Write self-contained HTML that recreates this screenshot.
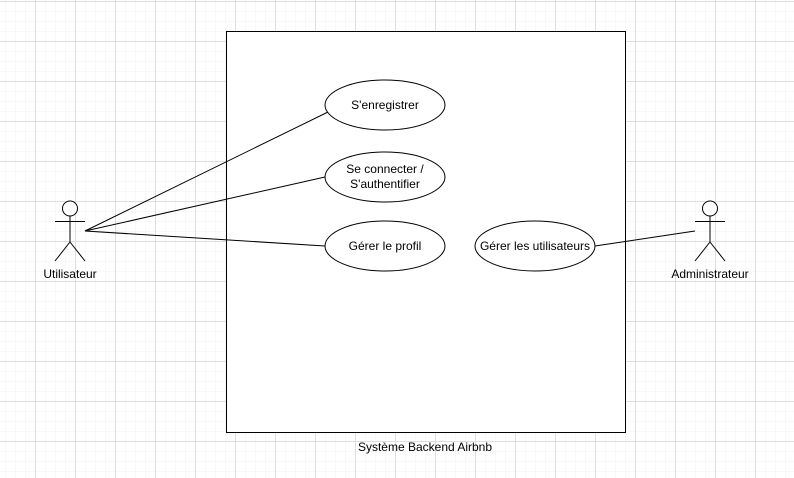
<!DOCTYPE html>
<html><head><meta charset="utf-8"><style>
html,body{margin:0;padding:0;width:794px;height:478px;overflow:hidden;background:#fff}
svg{display:block}
text{font-family:"Liberation Sans",sans-serif;font-size:12px;fill:#000}
</style></head><body>
<svg width="794" height="478" xmlns="http://www.w3.org/2000/svg">
<defs>
<pattern id="minor" width="10" height="10" patternUnits="userSpaceOnUse" x="5" y="1">
<path d="M0 0H10M0 0V10" stroke="#f1f1f1" stroke-width="1" fill="none"/>
</pattern>
<pattern id="major" width="40" height="40" patternUnits="userSpaceOnUse" x="35" y="1">
<path d="M0 0.5H40M0.5 0V40" stroke="#dedede" stroke-width="1" fill="none"/>
</pattern>
</defs>
<rect width="794" height="478" fill="url(#minor)"/>
<rect width="794" height="478" fill="url(#major)"/>
<rect x="226.5" y="31.5" width="399" height="401" fill="#fff" stroke="#000"/>
<text x="425" y="451" text-anchor="middle">Système Backend Airbnb</text>
<g stroke="#000" fill="none">
<line x1="85" y1="231" x2="328" y2="112"/>
<line x1="85" y1="231" x2="325" y2="177"/>
<line x1="85" y1="231" x2="325" y2="246"/>
<line x1="695" y1="231" x2="595" y2="246"/>
<ellipse cx="385" cy="105" rx="60" ry="25" fill="#fff"/>
<ellipse cx="385" cy="177" rx="60" ry="25" fill="#fff"/>
<ellipse cx="385" cy="246" rx="60" ry="25" fill="#fff"/>
<ellipse cx="535" cy="246" rx="60" ry="25" fill="#fff"/>
<g>
<circle cx="70" cy="208.5" r="7.5" fill="#fff"/>
<path d="M70 216V242M55 221.5H85M70 242L55 261M70 242L85 261"/>
</g>
<g>
<circle cx="710" cy="208.5" r="7.5" fill="#fff"/>
<path d="M710 216V242M695 221.5H725M710 242L695 261M710 242L725 261"/>
</g>
</g>
<text x="385" y="109" text-anchor="middle">S'enregistrer</text>
<text x="385" y="173" text-anchor="middle">Se connecter /</text>
<text x="385" y="188" text-anchor="middle">S'authentifier</text>
<text x="385" y="250" text-anchor="middle">Gérer le profil</text>
<text x="535" y="250" text-anchor="middle">Gérer les utilisateurs</text>
<text x="70" y="278" text-anchor="middle">Utilisateur</text>
<text x="710" y="278" text-anchor="middle">Administrateur</text>
</svg>
</body></html>
